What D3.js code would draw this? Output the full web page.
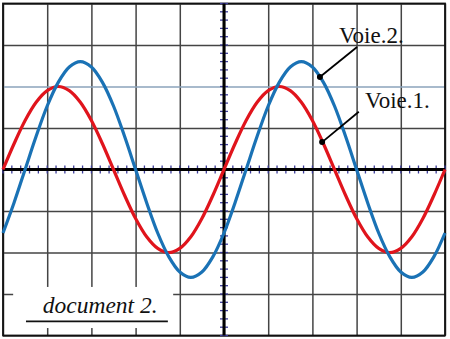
<!DOCTYPE html>
<html>
<head>
<meta charset="utf-8">
<script src="https://cdn.jsdelivr.net/npm/d3@7"></script>
<style>
  body { margin: 0; background: #fff; }
  svg { display: block; }
</style>
</head>
<body>
<div id="scope"></div>
<script>
// time in divisions, voltage in divisions
const times = [0, 0.25, 0.5, 0.75, 1, 1.25, 1.5, 1.75, 2, 2.25, 2.5, 2.75, 3, 3.25, 3.5, 3.75, 4, 4.25, 4.5, 4.75,
               5, 5.25, 5.5, 5.75, 6, 6.25, 6.5, 6.75, 7, 7.25, 7.5, 7.75, 8, 8.25, 8.5, 8.75, 9, 9.25, 9.5, 9.75, 10];
const voie1 = [0, 0.62, 1.18, 1.62, 1.9, 2, 1.9, 1.62, 1.18, 0.62, 0, -0.62, -1.18, -1.62, -1.9, -2, -1.9, -1.62, -1.18, -0.62,
               0, 0.62, 1.18, 1.62, 1.9, 2, 1.9, 1.62, 1.18, 0.62, 0, -0.62, -1.18, -1.62, -1.9, -2, -1.9, -1.62, -1.18, -0.62, 0];
const voie2 = [-1.53, -0.8, 0, 0.8, 1.53, 2.1, 2.47, 2.6, 2.47, 2.1, 1.53, 0.8, 0, -0.8, -1.53, -2.1, -2.47, -2.6, -2.47, -2.1,
               -1.53, -0.8, 0, 0.8, 1.53, 2.1, 2.47, 2.6, 2.47, 2.1, 1.53, 0.8, 0, -0.8, -1.53, -2.1, -2.47, -2.6, -2.47, -2.1, -1.53];
const labels = ['Voie.1.', 'Voie.2.'];
const caption = 'document 2.';

const width = 450;
const height = 339;
const margin = {top: 3.5, bottom: 3.5, left: 3, right: 5};
const serif = '"Liberation Serif", "Times New Roman", Times, serif';

const svg = d3.select('#scope')
              .append('svg')
              .attr('width', width)
              .attr('height', height);

const x = d3.scaleLinear()
            .domain([0, 10])
            .range([margin.left, width - margin.right]);

const y = d3.scaleLinear()
            .domain([-4, 4])
            .range([height - margin.bottom, margin.top]);

// grid
const gridX = svg.append('g')
   .attr('transform', `translate(0, ${y(-4)})`)
   .call(d3.axisBottom(x).ticks(10).tickSize(-(y(-4) - y(4))).tickFormat(''));
gridX.select('.domain').remove();
gridX.selectAll('line').attr('stroke', '#444').attr('stroke-width', 1.5);

const gridY = svg.append('g')
   .attr('transform', `translate(${x(0)}, 0)`)
   .call(d3.axisLeft(y).ticks(8).tickSize(-(x(10) - x(0))).tickFormat(''));
gridY.select('.domain').remove();
gridY.selectAll('line').attr('stroke', '#444').attr('stroke-width', 1.5);
gridY.selectAll('.tick').filter(d => d === 2)
     .select('line').attr('stroke', '#8ba3bb');

// border
svg.append('rect')
   .attr('x', x(0)).attr('y', y(4))
   .attr('width', x(10) - x(0)).attr('height', y(-4) - y(4))
   .attr('fill', 'none').attr('stroke', '#111').attr('stroke-width', 1.8);

// centre axes with minor graduations
const minorT = d3.range(0, 10.001, 0.2);
const minorV = d3.range(-4, 4.001, 0.2);

svg.append('g').selectAll('line')
   .data(minorT)
   .join('line')
   .attr('x1', d => x(d)).attr('x2', d => x(d))
   .attr('y1', y(0) - 4).attr('y2', y(0) + 4)
   .attr('stroke', '#3c3c9a').attr('stroke-width', 1.3);

svg.append('g').selectAll('line')
   .data(minorV)
   .join('line')
   .attr('x1', x(5) - 4).attr('x2', x(5) + 4)
   .attr('y1', d => y(d)).attr('y2', d => y(d))
   .attr('stroke', '#3c3c9a').attr('stroke-width', 1.3);

svg.append('line')
   .attr('x1', x(0)).attr('x2', x(10))
   .attr('y1', y(0)).attr('y2', y(0))
   .attr('stroke', '#000').attr('stroke-width', 3);

svg.append('line')
   .attr('x1', x(5)).attr('x2', x(5))
   .attr('y1', y(4)).attr('y2', y(-4))
   .attr('stroke', '#000').attr('stroke-width', 3);

// caption box
svg.append('rect')
   .attr('x', x(0.23)).attr('y', y(-2.83))
   .attr('width', x(3.85) - x(0.23)).attr('height', y(-3.82) - y(-2.83))
   .attr('fill', '#fff');

svg.append('text')
   .attr('x', x(0.9)).attr('y', y(-3.45))
   .attr('font-family', serif)
   .attr('font-style', 'italic')
   .attr('font-size', '23.5px')
   .attr('fill', '#111')
   .text(caption);

svg.append('line')
   .attr('x1', x(0.52)).attr('x2', x(3.73))
   .attr('y1', y(-3.66)).attr('y2', y(-3.66))
   .attr('stroke', '#111').attr('stroke-width', 1.8);

// traces
const line = d3.line()
   .x((d, i) => x(times[i]))
   .y(d => y(d))
   .curve(d3.curveCatmullRom);

svg.append('path')
   .datum(voie1)
   .attr('d', line)
   .attr('fill', 'none')
   .attr('stroke', '#e0141c')
   .attr('stroke-width', 3.2);

svg.append('path')
   .datum(voie2)
   .attr('d', line)
   .attr('fill', 'none')
   .attr('stroke', '#1a72b5')
   .attr('stroke-width', 3.2);

// labels with pointer lines
const notes = [
   {text: labels[1], dot: [7.17, 2.23], end: [8.01, 2.95], pos: [7.6, 3.05]},
   {text: labels[0], dot: [7.22, 0.66], end: [8.05, 1.39], pos: [8.19, 1.48]}
];

const note = svg.append('g').selectAll('g')
   .data(notes)
   .join('g');

note.append('line')
   .attr('x1', d => x(d.dot[0])).attr('y1', d => y(d.dot[1]))
   .attr('x2', d => x(d.end[0])).attr('y2', d => y(d.end[1]))
   .attr('stroke', '#000').attr('stroke-width', 1.8);

note.append('circle')
   .attr('cx', d => x(d.dot[0])).attr('cy', d => y(d.dot[1]))
   .attr('r', 3)
   .attr('fill', '#000');

note.append('text')
   .attr('x', d => x(d.pos[0])).attr('y', d => y(d.pos[1]))
   .attr('font-family', serif)
   .attr('font-size', '23px')
   .attr('fill', '#111')
   .text(d => d.text);
</script>
</body>
</html>
